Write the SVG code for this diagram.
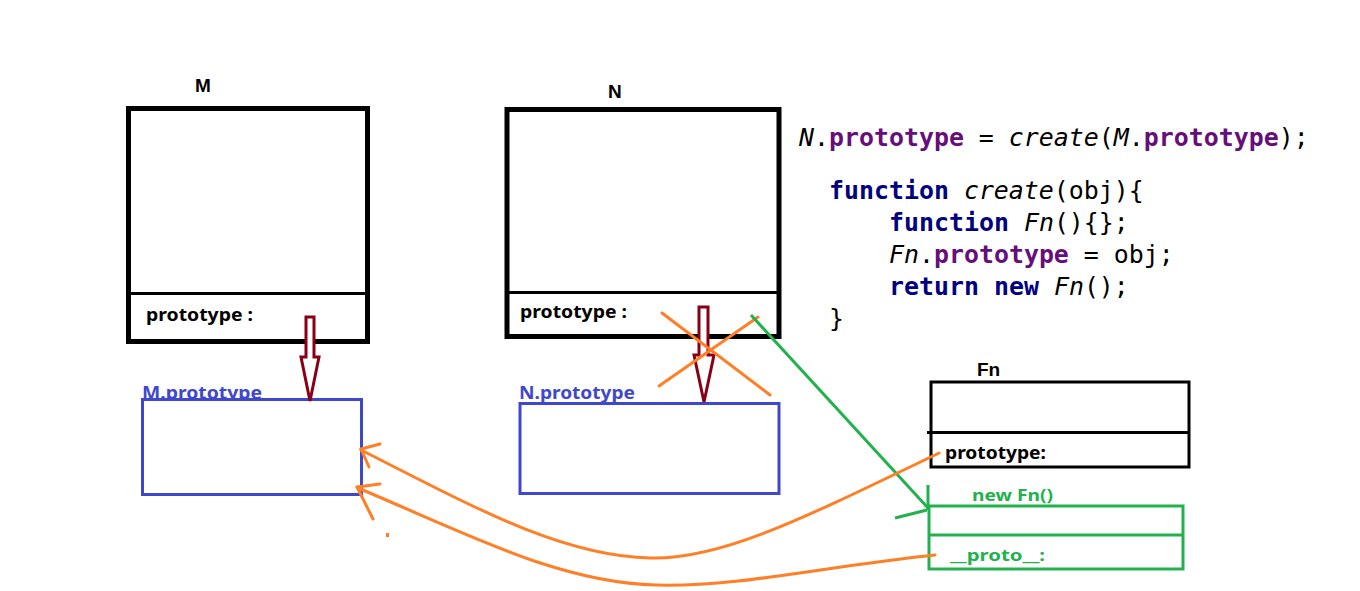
<svg xmlns="http://www.w3.org/2000/svg" width="1360" height="591" viewBox="0 0 1360 591">
<defs>
<style>
.bg{fill:#ffffff}
.blk{fill:#ffffff;stroke:#000000;stroke-width:5}
.blk3{fill:#ffffff;stroke:#000000;stroke-width:3}
.div5{stroke:#000000;stroke-width:3}
.div3{stroke:#000000;stroke-width:3}
.blue{fill:#ffffff;stroke:#3F48CC;stroke-width:3}
.grn{fill:none;stroke:#22B14C;stroke-width:3}
.org{fill:none;stroke:#FF7F27;stroke-width:3;stroke-linecap:round}
.red{fill:#ffffff;stroke:#880015;stroke-width:3;stroke-linejoin:miter}
.lbl{font-family:"Noto Sans","Liberation Sans",sans-serif;font-weight:bold;font-size:18px;fill:#000000}
.title{font-family:"Liberation Sans",Arial,sans-serif;font-weight:bold;font-size:19px;fill:#000000}
.bl{font-family:"Noto Sans","Liberation Sans",sans-serif;font-weight:bold;font-size:18px;fill:#3F48CC}
.gl{font-family:"Noto Sans","Liberation Sans",sans-serif;font-weight:bold;font-size:16px;fill:#22B14C}
.code{font-family:"DejaVu Sans Mono","Liberation Mono",monospace;font-size:24.9px;fill:#000000}
.kw{fill:#000080;font-weight:bold}
.fd{fill:#660E7A;font-weight:bold}
.it{font-style:italic}
</style>
</defs>
<rect class="bg" x="0" y="0" width="1360" height="591"/>

<g id="node-M">
<text class="title" x="195" y="92">M</text>
<rect class="blk" x="128.5" y="108.5" width="239" height="233"/>
<line class="div5" x1="128" y1="293.5" x2="368" y2="293.5"/>
<text class="lbl" x="146" y="321" textLength="107" lengthAdjust="spacingAndGlyphs">prototype :</text>
</g>

<g id="node-N">
<text class="title" x="608" y="98">N</text>
<rect class="blk" x="507" y="109.5" width="272" height="227"/>
<line class="div5" x1="507" y1="292.5" x2="779" y2="292.5"/>
<text class="lbl" x="520" y="318" textLength="107" lengthAdjust="spacingAndGlyphs">prototype :</text>
</g>

<g id="node-Mprototype">
<text class="bl" x="142" y="399" textLength="120" lengthAdjust="spacingAndGlyphs">M.prototype</text>
<rect class="blue" x="142.5" y="399.5" width="219" height="95"/>
</g>

<g id="node-Nprototype">
<text class="bl" x="519" y="399" textLength="116" lengthAdjust="spacingAndGlyphs">N.prototype</text>
<rect class="blue" x="520" y="403.5" width="259" height="90"/>
</g>

<g id="node-Fn">
<text class="title" x="977" y="376">Fn</text>
<rect class="blk3" x="931" y="382" width="258" height="85"/>
<line class="div3" x1="927" y1="432.5" x2="1189" y2="432.5"/>
<text class="lbl" x="945" y="459" textLength="101" lengthAdjust="spacingAndGlyphs">prototype:</text>
</g>

<g id="node-newFn">
<text class="gl" x="972" y="501" textLength="81" lengthAdjust="spacingAndGlyphs">new Fn()</text>
<rect class="grn" x="929" y="506" width="254" height="63" fill="#ffffff"/>
<line class="grn" x1="929" y1="535" x2="1183" y2="535"/>
<text class="gl" x="950" y="561" textLength="95" lengthAdjust="spacingAndGlyphs">__proto__:</text>
</g>

<g id="code">
<text class="code" x="799" y="146"><tspan class="it">N</tspan>.<tspan class="fd">prototype</tspan> = <tspan class="it">create</tspan>(<tspan class="it">M</tspan>.<tspan class="fd">prototype</tspan>);</text>
<text class="code" x="829" y="199"><tspan class="kw">function</tspan> <tspan class="it">create</tspan>(obj){</text>
<text class="code" x="889" y="231"><tspan class="kw">function</tspan> <tspan class="it">Fn</tspan>(){};</text>
<text class="code" x="889" y="263"><tspan class="it">Fn</tspan>.<tspan class="fd">prototype</tspan> = obj;</text>
<text class="code" x="889" y="295"><tspan class="kw">return</tspan> <tspan class="kw">new</tspan> <tspan class="it">Fn</tspan>();</text>
<text class="code" x="829" y="327">}</text>
</g>

<g id="connectors">
<polygon class="red" points="306,317 314,317 314,357 319,357 310,401 301,357 306,357"/>
<polygon class="red" points="699,307 708,307 708,355 714,355 704,402 694,355 699,355"/>
<line class="org" x1="662" y1="313" x2="770" y2="395"/>
<line class="org" x1="659" y1="386" x2="758" y2="317"/>
<line class="grn" x1="751" y1="315" x2="928" y2="508"/>
<line class="grn" x1="928" y1="485" x2="928" y2="510"/>
<line class="grn" x1="895" y1="518" x2="927" y2="510"/>
<path class="org" d="M 939 453 C 800 520, 720 560, 650 558 C 560 556, 470 505, 361 450"/>
<line class="org" x1="361" y1="449" x2="380" y2="444"/>
<line class="org" x1="361" y1="449" x2="369" y2="467"/>
<path class="org" d="M 935 555 C 820 567, 740 587, 656 585 C 560 583, 470 535, 358 488"/>
<line class="org" x1="357" y1="487" x2="380" y2="484"/>
<line class="org" x1="357" y1="487" x2="373" y2="519"/>
<rect x="386" y="533" width="3" height="4" fill="#FF7F27"/>
</g>
</svg>
